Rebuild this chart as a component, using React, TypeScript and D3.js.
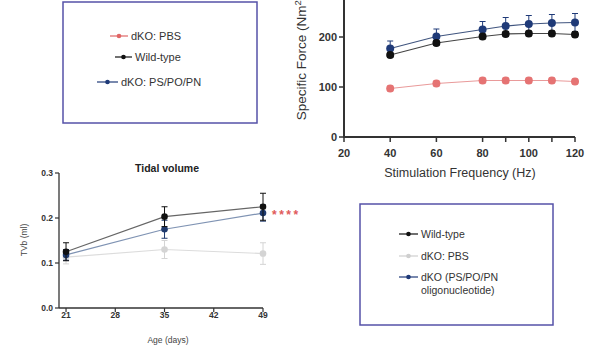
import React from 'react';
import * as d3 from 'd3';

// specific force vs stimulation frequency
const freqs = [40, 60, 80, 90, 100, 110, 120];
const forceWT = [164, 188, 201, 206, 207, 207, 205];
const forceWTErr = [5, 5, 5, 5, 5, 5, 5];
const forcePBS = [97, 107, 113, 113, 113, 113, 111];
const forcePBSErr = [5, 5, 5, 5, 5, 5, 5];
const forceOligo = [177, 201, 215, 222, 226, 228, 229];
const forceOligoErr = [15, 15, 16, 17, 17, 17, 18];
const freqTicks = [20, 40, 60, 80, 100, 120];
const forceTicks = [0, 100, 200];

// tidal volume vs age
const ages = [21, 35, 49];
const tvWT = [0.125, 0.203, 0.225];
const tvWTErr = [0.02, 0.022, 0.03];
const tvPBS = [0.113, 0.13, 0.121];
const tvPBSErr = [0.015, 0.02, 0.024];
const tvOligo = [0.118, 0.175, 0.211];
const tvOligoErr = [0.012, 0.02, 0.018];
const ageTicks = [21, 28, 35, 42, 49];
const tvTicks = [0, 0.1, 0.2, 0.3];

const legendTop = [
    { label: 'dKO: PBS', color: '#e06666', x1: 110, x2: 128 },
    { label: 'Wild-type', color: '#111111', x1: 115, x2: 132 },
    { label: 'dKO: PS/PO/PN', color: '#1f3a78', x1: 97, x2: 118 },
];
const legendBottom = [
    { label: ['Wild-type'], color: '#111111' },
    { label: ['dKO: PBS'], color: '#cfcfcf' },
    { label: ['dKO (PS/PO/PN', 'oligonucleotide)'], color: '#1f3a78' },
];

const FONT = 'Liberation Sans, Arial, sans-serif';

type Series = { vals: number[]; errs: number[]; color: string; line: string };

const SeriesMarks = ({ xs, s, x, y, r, sw }: { xs: number[]; s: Series; x: (v: number) => number; y: (v: number) => number; r: number; sw: number }) => {
    const line = d3.line<number>().x((_, i) => x(xs[i])).y(d => y(d));
    return (
        <g>
            <path d={line(s.vals) || ''} fill="none" stroke={s.line} strokeWidth={sw} />
            {s.vals.map((v, i) => (
                <g key={i}>
                    <line x1={x(xs[i])} x2={x(xs[i])} y1={y(v - s.errs[i])} y2={y(v + s.errs[i])} stroke={s.color} strokeWidth={1} />
                    <line x1={x(xs[i]) - 3} x2={x(xs[i]) + 3} y1={y(v + s.errs[i])} y2={y(v + s.errs[i])} stroke={s.color} strokeWidth={1} />
                    <line x1={x(xs[i]) - 3} x2={x(xs[i]) + 3} y1={y(v - s.errs[i])} y2={y(v - s.errs[i])} stroke={s.color} strokeWidth={1} />
                    <circle cx={x(xs[i])} cy={y(v)} r={r} fill={s.color} />
                </g>
            ))}
        </g>
    );
};

const App = () => {
    // top-right chart
    const fx = d3.scaleLinear().domain([20, 120]).range([344, 575]);
    const fy = d3.scaleLinear().domain([0, 300]).range([137, -13]);
    const forceSeries: Series[] = [
        { vals: forcePBS, errs: forcePBSErr, color: '#e57373', line: '#e99a9a' },
        { vals: forceOligo, errs: forceOligoErr, color: '#1f3a78', line: '#40557f' },
        { vals: forceWT, errs: forceWTErr, color: '#111111', line: '#444444' },
    ];

    // bottom-left chart
    const tx = d3.scaleLinear().domain([20, 49]).range([59, 263]);
    const ty = d3.scaleLinear().domain([0, 0.3]).range([308, 173]);
    const tvSeries: Series[] = [
        { vals: tvPBS, errs: tvPBSErr, color: '#d4d4d4', line: '#dcdcdc' },
        { vals: tvOligo, errs: tvOligoErr, color: '#1f3a6e', line: '#7f93b3' },
        { vals: tvWT, errs: tvWTErr, color: '#111111', line: '#666666' },
    ];

    return (
        <svg width={595} height={349} style={{ position: 'absolute', left: 0, top: 0, background: '#fff' }} fontFamily={FONT}>
            {/* top-left legend */}
            <rect x={63} y={2} width={194} height={121} fill="none" stroke="#5552a8" strokeWidth={1.5} />
            {legendTop.map((d, i) => {
                const cy = [36, 57, 82][i];
                return (
                    <g key={d.label}>
                        <line x1={d.x1} x2={d.x2} y1={cy} y2={cy} stroke={d.color} strokeWidth={1.2} />
                        <circle cx={(d.x1 + d.x2) / 2} cy={cy} r={2.3} fill={d.color} />
                        <text x={d.x2 + 3} y={cy + 4} fontSize={11} fill="#333">{d.label}</text>
                    </g>
                );
            })}

            {/* top-right chart */}
            <g>
                {forceSeries.map((s, i) => (
                    <SeriesMarks key={i} xs={freqs} s={s} x={fx} y={fy} r={4} sw={1.2} />
                ))}
                <line x1={fx(20)} x2={fx(20)} y1={fy(0)} y2={0} stroke="#333" strokeWidth={2} />
                <line x1={fx(20) - 1} x2={fx(120)} y1={fy(0)} y2={fy(0)} stroke="#333" strokeWidth={2} />
                {forceTicks.map(t => (
                    <g key={t}>
                        <line x1={fx(20) - 5} x2={fx(20)} y1={fy(t)} y2={fy(t)} stroke="#333" strokeWidth={1.5} />
                        <text x={fx(20) - 7} y={fy(t) + 4} fontSize={11} fontWeight="bold" fill="#333" textAnchor="end">{t}</text>
                    </g>
                ))}
                {freqTicks.concat([90, 110]).map(t => (
                    <line key={t} x1={fx(t)} x2={fx(t)} y1={fy(0)} y2={fy(0) + 5} stroke="#333" strokeWidth={1.5} />
                ))}
                {freqTicks.map(t => (
                    <text key={t} x={fx(t)} y={157} fontSize={11} fontWeight="bold" fill="#333" textAnchor="middle">{t}</text>
                ))}
                <text x={460} y={177} fontSize={12.5} fill="#333" textAnchor="middle">Stimulation Frequency (Hz)</text>
                <text transform="translate(306,58) rotate(-90)" fontSize={13.5} fill="#333" textAnchor="middle">
                    Specific Force (Nm<tspan dy={-5} fontSize={9.5}>2</tspan><tspan dy={5}>)</tspan>
                </text>
            </g>

            {/* bottom-left chart */}
            <g>
                <text x={167} y={172} fontSize={10.5} fontWeight="bold" fill="#222" textAnchor="middle">Tidal volume</text>
                {tvSeries.map((s, i) => (
                    <SeriesMarks key={i} xs={ages} s={s} x={tx} y={ty} r={3.3} sw={1.2} />
                ))}
                <line x1={tx(20)} x2={tx(20)} y1={ty(0)} y2={ty(0.3)} stroke="#333" strokeWidth={1.3} />
                <line x1={tx(20)} x2={tx(49)} y1={ty(0)} y2={ty(0)} stroke="#333" strokeWidth={1.3} />
                {tvTicks.map(t => (
                    <g key={t}>
                        <line x1={tx(20) - 4} x2={tx(20)} y1={ty(t)} y2={ty(t)} stroke="#333" strokeWidth={1.2} />
                        <text x={tx(20) - 6} y={ty(t) + 3} fontSize={8.5} fontWeight="bold" fill="#333" textAnchor="end">{t.toFixed(1)}</text>
                    </g>
                ))}
                {ageTicks.map(t => (
                    <g key={t}>
                        <line x1={tx(t)} x2={tx(t)} y1={ty(0)} y2={ty(0) + 4} stroke="#333" strokeWidth={1.2} />
                        <text x={tx(t)} y={318} fontSize={8.5} fontWeight="bold" fill="#333" textAnchor="middle">{t}</text>
                    </g>
                ))}
                <text x={168} y={343} fontSize={8.5} fill="#444" textAnchor="middle">Age (days)</text>
                <text transform="translate(27,240) rotate(-90)" fontSize={8.5} fill="#444" textAnchor="middle">TVb (ml)</text>
                <text x={272} y={219} fontSize={12} fontWeight="bold" fill="#e05a5a" letterSpacing={2.5}>****</text>
            </g>

            {/* bottom-right legend */}
            <rect x={360} y={204} width={193} height={121} fill="none" stroke="#5552a8" strokeWidth={1.5} />
            {legendBottom.map((d, i) => {
                const cy = [234, 256, 277][i];
                return (
                    <g key={i}>
                        <line x1={399} x2={418} y1={cy} y2={cy} stroke={d.color} strokeWidth={1.2} />
                        <circle cx={408.5} cy={cy} r={2.3} fill={d.color} />
                        {d.label.map((l, j) => (
                            <text key={j} x={421} y={cy + 4 + j * 13} fontSize={10.5} fill="#333">{l}</text>
                        ))}
                    </g>
                );
            })}
        </svg>
    );
};

export default App;
